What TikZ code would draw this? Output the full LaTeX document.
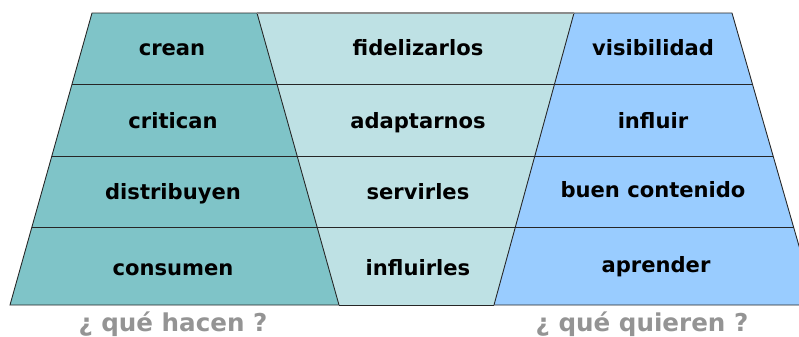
\documentclass[tikz,border=0pt]{standalone}
\usepackage{fontspec}
\setmainfont{DejaVu Sans}
\usetikzlibrary{calc}

\definecolor{hacen}{HTML}{7FC4C8}
\definecolor{medio}{HTML}{BEE1E4}
\definecolor{quieren}{HTML}{99CCFF}

\tikzset{
    celda/.style={anchor=base, font=\bfseries\fontsize{12}{14}\selectfont, text=black},
    pregunta/.style={anchor=base, font=\bfseries\fontsize{14}{16}\selectfont, text=black!42},
    borde/.style={draw=black!85, line width=0.5pt}
}

\begin{document}
\begin{tikzpicture}[x=0.02cm, y=-0.02cm]
    \useasboundingbox (0, 0) rectangle (799, 336);
    \clip (0, 0) rectangle (799, 336);

    % left trapezoid
    \coordinate (LT1) at (92, 13);
    \coordinate (LB1) at (10, 305);
    \coordinate (RT1) at (257, 13);
    \coordinate (RB1) at (339, 305);
    % right trapezoid
    \coordinate (LT2) at (574, 13);
    \coordinate (LB2) at (494, 305);
    \coordinate (RT2) at (732, 13);
    \coordinate (RB2) at (816, 305);

    \fill[medio] (RT1) -- (LT2) -- (LB2) -- (RB1) -- cycle;
    \fill[hacen] (LT1) -- (RT1) -- (RB1) -- (LB1) -- cycle;
    \fill[quieren] (LT2) -- (RT2) -- (RB2) -- (LB2) -- cycle;

    % rows
    \coordinate (A1) at ($(LT1)!0.243!(LB1)$);
    \coordinate (B1) at ($(RT2)!0.243!(RB2)$);
    \coordinate (A2) at ($(LT1)!0.490!(LB1)$);
    \coordinate (B2) at ($(RT2)!0.490!(RB2)$);
    \coordinate (A3) at ($(LT1)!0.733!(LB1)$);
    \coordinate (B3) at ($(RT2)!0.733!(RB2)$);
    \draw[borde] (A1) -- (B1);
    \draw[borde] (A2) -- (B2);
    \draw[borde] (A3) -- (B3);

    \draw[borde] (RT1) -- (RB1);
    \draw[borde] (LT2) -- (LB2);
    \draw[borde] (RB1) -- (LB1) -- (LT1) -- (RT1);
    \draw[borde] (LT2) -- (RT2) -- (RB2) -- (LB2);
    \draw[black!45, line width=0.6pt] (RT1) -- (LT2);
    \draw[borde] (RB1) -- (LB2);

    % what they do
    \node[celda] (crean) at (172, 55) {crean};
    \node[celda] (critican) at (173, 128) {critican};
    \node[celda] (distribuyen) at (173, 199) {distribuyen};
    \node[celda] (consumen) at (173, 275) {consumen};

    % what we do
    \node[celda] (fidelizarlos) at (418, 55) {fidelizarlos};
    \node[celda] (adaptarnos) at (418, 128) {adaptarnos};
    \node[celda] (servirles) at (418, 199) {servirles};
    \node[celda] (influirles) at (418, 275) {influirles};

    % what they want
    \node[celda] (visibilidad) at (653, 55) {visibilidad};
    \node[celda] (influir) at (653, 128) {influir};
    \node[celda] (contenido) at (653, 197) {buen contenido};
    \node[celda] (aprender) at (656, 272) {aprender};

    \node[pregunta] (hacen) at (173, 331) {¿ qué hacen ?};
    \node[pregunta] (quieren) at (642, 331) {¿ qué quieren ?};
\end{tikzpicture}
\end{document}
